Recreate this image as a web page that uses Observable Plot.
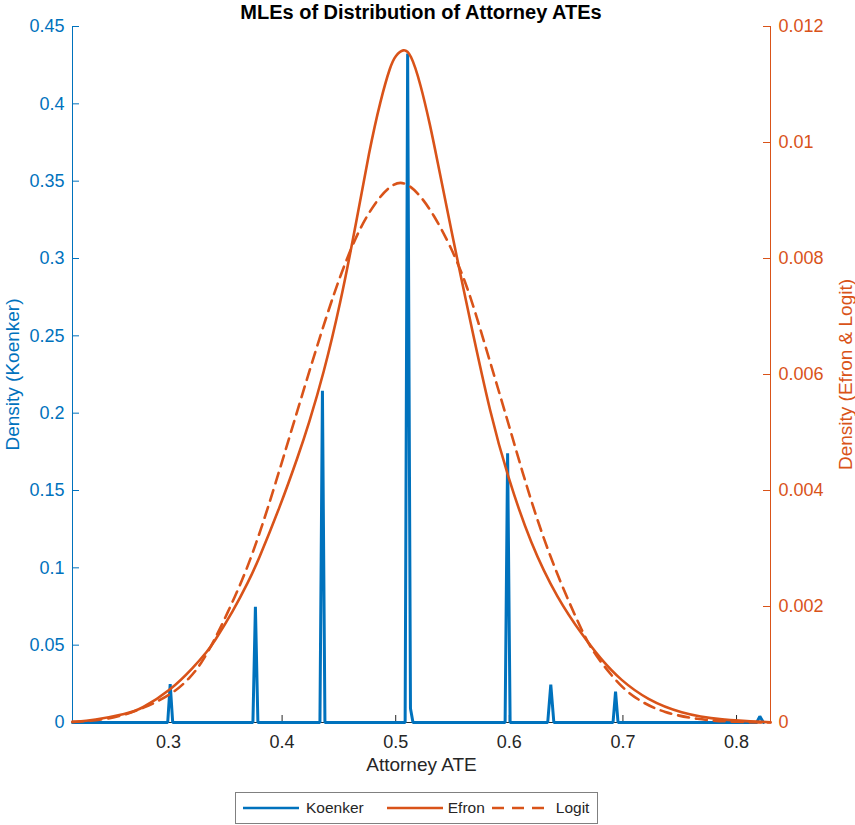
<!DOCTYPE html>
<html>
<head>
<meta charset="utf-8">
<script src="https://cdn.jsdelivr.net/npm/d3@7"></script>
<script src="https://cdn.jsdelivr.net/npm/@observablehq/plot@0.6"></script>
<style>
  html, body { margin: 0; padding: 0; background: #fff; }
  body { width: 855px; height: 825px; position: relative; overflow: hidden;
         font-family: Helvetica, Arial, "Liberation Sans", sans-serif; }
  #title { position: absolute; left: 72px; width: 698px; top: 0; height: 24px; line-height: 24px; z-index: 2;
           text-align: center; font-weight: bold; font-size: 20px; color: #000; }
  #chart { position: absolute; left: 0; top: 0; }
  #legend { position: absolute; left: 235px; top: 792px; width: 363px; height: 32px; box-sizing: border-box;
            border: 1px solid #808080; background: #fff; display: flex; align-items: center;
            font-size: 15.5px; color: #262626; }
  #legend span { white-space: nowrap; }
</style>
</head>
<body>
<div id="title"></div>
<div id="chart"></div>
<div id="legend"></div>
<script>
// ---------------- data ----------------
const titleText = "MLEs of Distribution of Attorney ATEs";
const xLabel = "Attorney ATE";
const leftLabel = "Density (Koenker)";
const rightLabel = "Density (Efron & Logit)";
const seriesNames = ["Koenker", "Efron", "Logit"];

const xDomain = [0.2155, 0.8299];
const leftDomain = [0, 0.45];
const rightDomain = [0, 0.012];

const xTicks = [0.3, 0.4, 0.5, 0.6, 0.7, 0.8];
const xTickLabels = ["0.3", "0.4", "0.5", "0.6", "0.7", "0.8"];
const leftTicks = [0, 0.05, 0.1, 0.15, 0.2, 0.25, 0.3, 0.35, 0.4, 0.45];
const leftTickLabels = ["0", "0.05", "0.1", "0.15", "0.2", "0.25", "0.3", "0.35", "0.4", "0.45"];
const rightTicks = [0, 0.002, 0.004, 0.006, 0.008, 0.01, 0.012];
const rightTickLabels = ["0", "0.002", "0.004", "0.006", "0.008", "0.01", "0.012"];

// Koenker (left axis): discrete mass points drawn as narrow spikes
const koenkerX = [0.2155, 0.2993, 0.3015, 0.3037, 0.3743, 0.3765, 0.3787, 0.4333, 0.4355, 0.4377,
                  0.5083, 0.5105, 0.5130, 0.5152, 0.5963, 0.5985, 0.6007, 0.6338, 0.6365, 0.6392,
                  0.6913, 0.6935, 0.6957, 0.8178, 0.8205, 0.8237];
const koenkerY = [0, 0, 0.0248, 0, 0, 0.0748, 0, 0, 0.2145,
                  0, 0, 0.4325, 0.009, 0, 0, 0.174, 0, 0, 0.0245, 0,
                  0, 0.020, 0, 0, 0.004, 0];

// Efron (right axis)
const efronX = [0.2155, 0.2340, 0.2639, 0.2754, 0.3018, 0.3220, 0.3343, 0.3396, 0.3572, 0.3704,
                0.3783, 0.3986, 0.4144, 0.4232, 0.4364, 0.4514, 0.4646, 0.4769, 0.4866, 0.4954,
                0.4998, 0.5068, 0.5130, 0.5218, 0.5306, 0.5350, 0.5509, 0.5658, 0.5835, 0.5984,
                0.6187, 0.6424, 0.6653, 0.6803, 0.6979, 0.7217, 0.7507, 0.7859, 0.8299];
const efronY = [0.00001, 0.000035, 0.000155, 0.000224, 0.000552, 0.000948, 0.00123, 0.00137, 0.00193, 0.00243,
                0.00276, 0.00374, 0.00461, 0.00513, 0.00600, 0.00723, 0.00855, 0.00988, 0.01073, 0.01133,
                0.01150, 0.01162, 0.01155, 0.01102, 0.01027, 0.00985, 0.00829, 0.00690, 0.00530, 0.00425,
                0.00308, 0.00213, 0.00148, 0.00110, 0.00073, 0.00039, 0.00016, 0.00004, 0.000005];

// Logit (right axis)
const logitX = [0.2155, 0.2489, 0.2780, 0.3044, 0.3194, 0.3282, 0.3396, 0.3546, 0.3678, 0.3810,
                0.3942, 0.4092, 0.4268, 0.4400, 0.4514, 0.4646, 0.4752, 0.4866, 0.4954, 0.5042,
                0.5130, 0.5218, 0.5333, 0.5482, 0.5632, 0.5773, 0.5993, 0.6125, 0.6275, 0.6451,
                0.6653, 0.6741, 0.6979, 0.7155, 0.7357, 0.7657, 0.7948, 0.8299];
const logitY = [0.00001, 0.00005, 0.00024, 0.00050, 0.00078, 0.00100, 0.00138, 0.00200, 0.00258, 0.00330,
                0.00412, 0.00510, 0.00624, 0.00706, 0.00772, 0.00836, 0.00876, 0.00908, 0.00925, 0.00933,
                0.00925, 0.00908, 0.00876, 0.00822, 0.00752, 0.00660, 0.00515, 0.00425, 0.00331, 0.00240,
                0.00152, 0.00120, 0.00061, 0.00036, 0.00017, 0.00005, 0.00001, 0];

// ---------------- build ----------------
const blue = "#0072BD", orange = "#D95319", dark = "#262626";
const ratio = leftDomain[1] / rightDomain[1];   // right-axis values mapped into left-axis units

const koenker = koenkerX.map((x, i) => ({x, y: koenkerY[i]}));
const efron = efronX.map((x, i) => ({x, y: efronY[i] * ratio}));
const logit = logitX.map((x, i) => ({x, y: logitY[i] * ratio}));
const rightScaled = rightTicks.map(t => t * ratio);

const xFmt = new Map(xTicks.map((t, i) => [t, xTickLabels[i]]));
const lFmt = new Map(leftTicks.map((t, i) => [t, leftTickLabels[i]]));
const rFmt = new Map(rightScaled.map((t, i) => [t, rightTickLabels[i]]));

const W = 855, H = 790, mT = 26, mB = 68, mL = 72, mR = 85;
const plotW = W - mL - mR, plotH = H - mT - mB;
const tick = 7;

const chart = Plot.plot({
  width: W, height: H,
  marginTop: mT, marginBottom: mB, marginLeft: mL, marginRight: mR,
  style: {fontFamily: "Helvetica, Arial, 'Liberation Sans', sans-serif", background: "transparent"},
  x: {domain: xDomain},
  y: {domain: leftDomain},
  marks: [
    // axes lines
    Plot.ruleY([0], {stroke: dark, strokeWidth: 1}),
    Plot.ruleX([xDomain[0]], {stroke: blue, strokeWidth: 1}),
    Plot.ruleX([xDomain[1]], {stroke: orange, strokeWidth: 1}),
    // inward tick marks
    Plot.ruleX(xTicks, {stroke: dark, strokeWidth: 1, insetTop: plotH - tick}),
    Plot.ruleY(leftTicks, {stroke: blue, strokeWidth: 1, insetRight: plotW - tick}),
    Plot.ruleY(rightScaled, {stroke: orange, strokeWidth: 1, insetLeft: plotW - tick}),
    // tick labels
    Plot.axisX(xTicks, {tickSize: 0, tickPadding: 13, tickFormat: d => xFmt.get(d), color: dark, fontSize: 18, label: null}),
    Plot.axisY(leftTicks, {anchor: "left", tickSize: 0, tickPadding: 8, tickFormat: d => lFmt.get(d), color: blue, fontSize: 18, label: null}),
    Plot.axisY(rightScaled, {anchor: "right", tickSize: 0, tickPadding: 8, tickFormat: d => rFmt.get(d), color: orange, fontSize: 18, label: null}),
    // axis titles
    Plot.text([xLabel], {frameAnchor: "bottom", dy: 48, fill: dark, fontSize: 19}),
    Plot.text([leftLabel], {frameAnchor: "left", textAnchor: "middle", dx: -60, rotate: -90, fill: blue, fontSize: 19}),
    Plot.text([rightLabel], {frameAnchor: "right", textAnchor: "middle", dx: 75, rotate: -90, fill: orange, fontSize: 19}),
    // series
    Plot.line(koenker, {x: "x", y: "y", stroke: blue, strokeWidth: 3, strokeLinejoin: "miter"}),
    Plot.line(efron, {x: "x", y: "y", stroke: orange, strokeWidth: 2.6, curve: "basis"}),
    Plot.line(logit, {x: "x", y: "y", stroke: orange, strokeWidth: 2.6, strokeDasharray: "11,7", curve: "basis"})
  ]
});
document.getElementById("chart").appendChild(chart);
document.getElementById("title").textContent = titleText;

// ---------------- legend ----------------
const legendStyles = [
  {color: blue, dash: null, lineLeft: 7, textLeft: 7},
  {color: orange, dash: null, lineLeft: 23, textLeft: 5},
  {color: orange, dash: "12,8", lineLeft: 7, textLeft: 8}
];
const legend = document.getElementById("legend");
seriesNames.forEach((name, i) => {
  const s = legendStyles[i];
  const svgNS = "http://www.w3.org/2000/svg";
  const svg = document.createElementNS(svgNS, "svg");
  svg.setAttribute("width", 56); svg.setAttribute("height", 6);
  svg.style.marginLeft = s.lineLeft + "px";
  const ln = document.createElementNS(svgNS, "line");
  ln.setAttribute("x1", 0); ln.setAttribute("x2", 56); ln.setAttribute("y1", 3); ln.setAttribute("y2", 3);
  ln.setAttribute("stroke", s.color); ln.setAttribute("stroke-width", 2.6);
  if (s.dash) ln.setAttribute("stroke-dasharray", s.dash);
  svg.appendChild(ln);
  legend.appendChild(svg);
  const t = document.createElement("span");
  t.textContent = name; t.style.marginLeft = s.textLeft + "px";
  legend.appendChild(t);
});
</script>
</body>
</html>
